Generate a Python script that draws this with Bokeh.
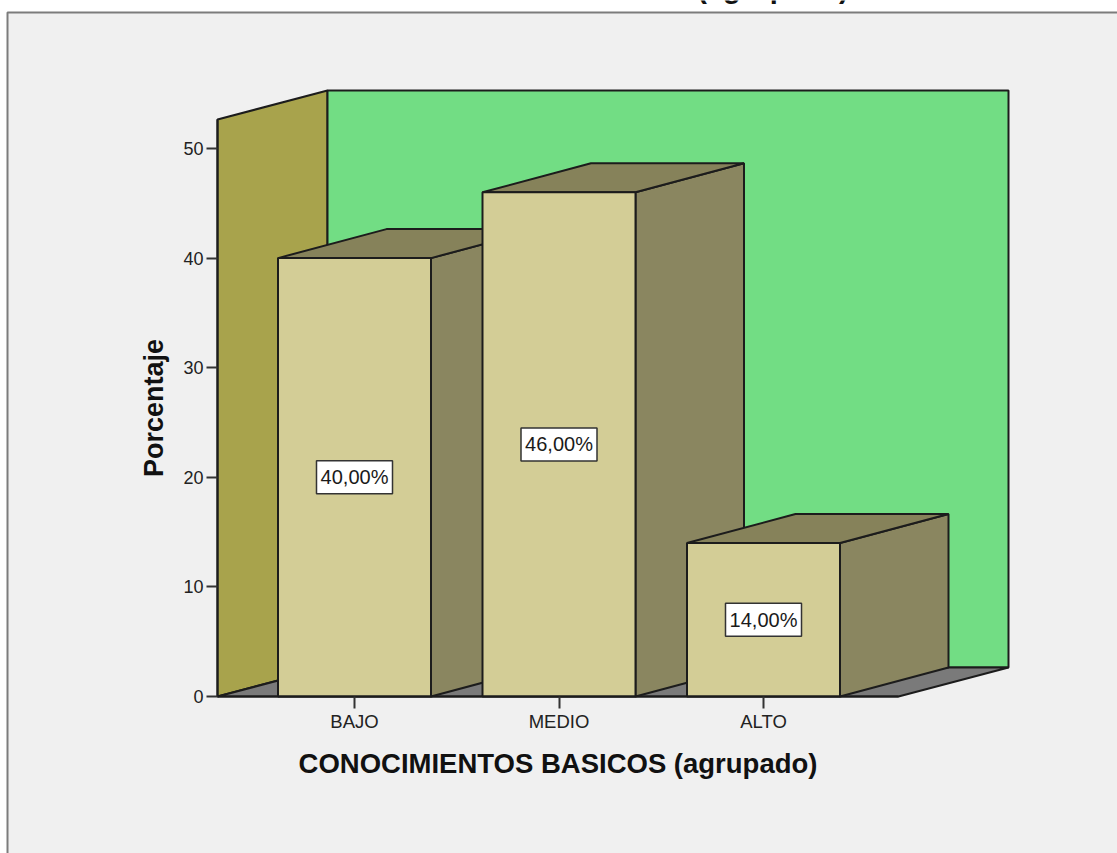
from bokeh.plotting import figure
from bokeh.embed import file_html
from bokeh.resources import INLINE
from bokeh.models import Range1d, LinearAxis, FixedTicker
from bokeh.core.properties import value

categories = ["BAJO", "MEDIO", "ALTO"]
percentages = [40.0, 46.0, 14.0]
value_labels = ["40,00%", "46,00%", "14,00%"]
y_ticks = [0, 10, 20, 30, 40, 50]
x_title = "CONOCIMIENTOS BASICOS (agrupado)"
y_title = "Porcentaje"
cut_title = "(agrupado)"

W, H = 1117, 853
PX_X0, PX_XU = 354.0, 204.5   # pixel of category 0, pixels per category
PX_Y0, PX_YU = 696.0, 10.96   # pixel of value 0, pixels per percent
def X(px): return (px - PX_X0) / PX_XU
def Y(px): return (PX_Y0 - px) / PX_YU

DX = 108.5 / PX_XU
DY = 29.0 / PX_YU
HALF = 76.5 / PX_XU
FONT = "Liberation Sans"
EDGE = "#1c1c1c"

p = figure(width=W, height=H, output_backend="svg", toolbar_location=None,
           x_range=Range1d(X(0), X(W)), y_range=Range1d(Y(H), Y(0)),
           min_border=0, x_axis_type=None, y_axis_type=None)
p.grid.visible = False
p.outline_line_color = None
p.background_fill_color = "white"
p.border_fill_color = "white"
p.styles = {"position": "absolute", "left": "0px", "top": "0px"}

# window panel
p.quad(left=X(7), right=X(W + 5), bottom=Y(H + 5), top=Y(12),
       fill_color="#f0f0f0", line_color="#7c7c7c", line_width=2)

# walls and floor
wl, wr, yt = X(217), X(898), Y(119)
WDX = 110.0 / PX_XU
p.patch([wl, wl + WDX, wl + WDX, wl], [0, DY, yt + DY, yt], fill_color="#a8a34c", line_color=EDGE, line_width=2)
p.patch([wl + WDX, wr + WDX, wr + WDX, wl + WDX], [DY, DY, yt + DY, yt + DY], fill_color="#72dd84", line_color=EDGE, line_width=2)
p.patch([wl, wr, wr + WDX, wl + WDX], [0, 0, DY, DY], fill_color="#7a7a7a", line_color=EDGE, line_width=2)

# bars
for i, v in enumerate(percentages):
    l, r = i - HALF, i + HALF
    p.patch([r, r + DX, r + DX, r], [0, DY, v + DY, v], fill_color="#8a8660", line_color=EDGE, line_width=2)
    p.patch([l, r, r + DX, l + DX], [v, v, v + DY, v + DY], fill_color="#86825a", line_color=EDGE, line_width=2)
    p.quad(left=l, right=r, bottom=0, top=v, fill_color="#d3cd96", line_color=EDGE, line_width=2)

# value labels
xs = list(range(len(categories)))
mids = [v / 2 for v in percentages]
p.rect(xs, mids, width=76, height=33, width_units="screen", height_units="screen",
       fill_color="white", line_color="#333333", line_width=1.5)
p.text(xs, mids, text=value_labels, text_align="center", text_baseline="middle",
       text_font=value(FONT), text_font_size="20px", text_color="#1a1a1a")

# title cut by the window's top edge
p.text([X(772.5)], [Y(-13)], text=[cut_title], text_align="center", text_baseline="alphabetic",
       text_font=value(FONT), text_font_style="bold", text_font_size="29px", text_color="#111111")

# axes
yax = LinearAxis(fixed_location=wl, ticker=FixedTicker(ticks=y_ticks), bounds=(0, yt))
yax.axis_label = y_title
yax.axis_label_text_font = FONT
yax.axis_label_text_font_style = "bold"
yax.axis_label_text_font_size = "27px"
yax.axis_label_text_color = "#111111"
yax.axis_label_standoff = 11
yax.major_label_text_font = FONT
yax.major_label_text_font_size = "18px"
yax.major_label_text_color = "#222222"
yax.major_label_standoff = 3
yax.major_tick_in = 0
yax.major_tick_out = 11
yax.major_tick_line_width = 2
yax.major_tick_line_color = "#333333"
yax.minor_tick_line_color = None
yax.axis_line_color = EDGE
yax.axis_line_width = 2
p.add_layout(yax, "left")

xax = LinearAxis(fixed_location=0, ticker=FixedTicker(ticks=xs), bounds=(wl, wr),
                 major_label_overrides={i: c for i, c in enumerate(categories)})
xax.axis_label = x_title
xax.axis_label_text_font = FONT
xax.axis_label_text_font_style = "bold"
xax.axis_label_text_font_size = "27.5px"
xax.axis_label_text_color = "#111111"
xax.axis_label_standoff = 13
xax.major_label_text_font = FONT
xax.major_label_text_font_size = "18.5px"
xax.major_label_text_color = "#222222"
xax.major_label_standoff = 2
xax.major_tick_in = 0
xax.major_tick_out = 12
xax.major_tick_line_width = 2
xax.major_tick_line_color = "#333333"
xax.minor_tick_line_color = None
xax.axis_line_color = EDGE
xax.axis_line_width = 2
p.add_layout(xax, "below")

open("out.html", "w").write(file_html(p, INLINE))
